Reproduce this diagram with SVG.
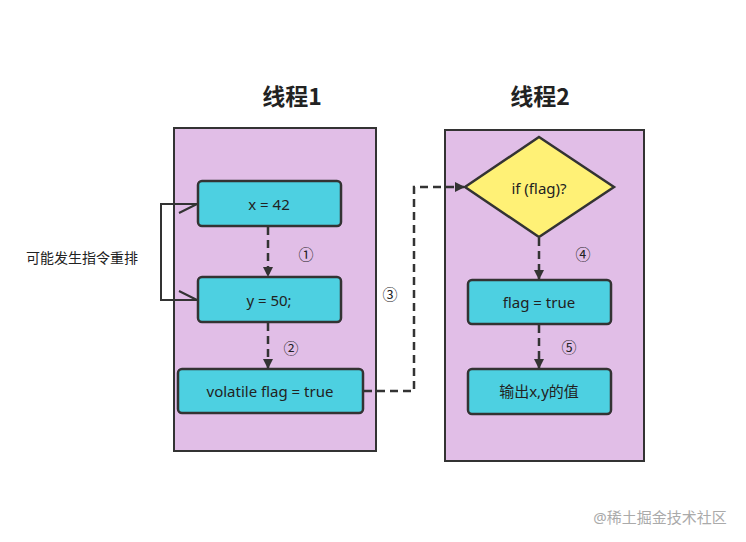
<svg xmlns="http://www.w3.org/2000/svg" width="746" height="542" viewBox="0 0 746 542">
<style>
.panel{fill:#e1bee7;stroke:#333;stroke-width:2}
.box{fill:#4dd0e1;stroke:#333;stroke-width:2.5}
.t{font-family:"Noto Sans","Noto Sans CJK SC",sans-serif;font-size:15px;fill:#222;text-anchor:middle;dominant-baseline:central}
.title{font-family:"Noto Sans CJK SC",sans-serif;font-size:23px;font-weight:bold;fill:#222;text-anchor:middle;dominant-baseline:central}
.dash{fill:none;stroke:#333;stroke-width:2.5;stroke-dasharray:8 5}
.sol{fill:none;stroke:#333;stroke-width:2}
</style>
<defs><marker id="ah" markerWidth="10" markerHeight="10" refX="9" refY="5" orient="auto" markerUnits="userSpaceOnUse"><path d="M0,0 L10,5 L0,10 z" fill="#333"/></marker></defs>
<rect width="746" height="542" fill="#fff"/>
<text class="title" x="292" y="95">线程1</text>
<text class="title" x="540" y="95">线程2</text>
<rect class="panel" x="174" y="128" width="202" height="323"/>
<rect class="panel" x="445" y="130" width="199" height="331"/>
<g id="connectors">
<path class="dash" d="M268,227 V276" marker-end="url(#ah)"/>
<path class="dash" d="M268,323 V368" marker-end="url(#ah)"/>
<path class="dash" d="M539,238 V279" marker-end="url(#ah)"/>
<path class="dash" d="M539,325 V368" marker-end="url(#ah)"/>
<path class="dash" d="M364,391 H414 V187 H464" marker-end="url(#ah)"/>
<path class="sol" d="M197,204 H161 V300 H197 M179,213 L197,204 M179,291 L197,300"/>
</g>
<g id="n1"><rect class="box" x="198" y="181" width="143" height="45" rx="4"/><text class="t" x="269" y="204">x = 42</text></g>
<g id="n2"><rect class="box" x="198" y="277" width="143" height="45" rx="4"/><text class="t" x="269" y="300">y = 50;</text></g>
<g id="n3"><rect class="box" x="178" y="369" width="185" height="44" rx="4"/><text class="t" x="270" y="391">volatile flag = true</text></g>
<g id="n4"><path d="M539,137 L614,187 L539,237 L465,187 Z" fill="#fff176" stroke="#333" stroke-width="2.5"/><text class="t" x="539" y="188">if (flag)?</text></g>
<g id="n5"><rect class="box" x="468" y="280" width="143" height="44" rx="4"/><text class="t" x="539" y="302">flag = true</text></g>
<g id="n6"><rect class="box" x="468" y="369" width="143" height="45" rx="4"/><text class="t" x="539" y="391">输出x,y的值</text></g>
<g class="t" font-size="14">
<text class="t" x="306" y="254">①</text>
<text class="t" x="291" y="348">②</text>
<text class="t" x="390" y="294">③</text>
<text class="t" x="583" y="254">④</text>
<text class="t" x="569" y="347">⑤</text>
</g>
<text class="t" x="82" y="257" style="font-size:14px">可能发生指令重排</text>
<text class="t" x="660" y="517" style="font-size:15px;fill:#aaa">@稀土掘金技术社区</text>
</svg>
